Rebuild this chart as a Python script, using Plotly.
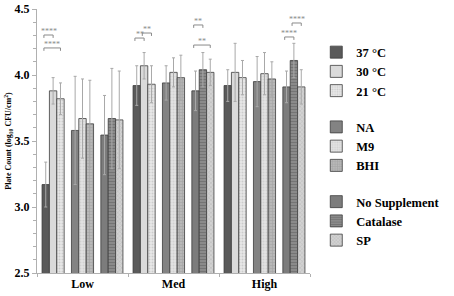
import plotly.graph_objects as go

categories = ["Low", "Med", "High"]

series_names = ["37 °C", "30 °C", "21 °C", "NA", "M9", "BHI", "No Supplement", "Catalase", "SP"]
series_group = [0, 0, 0, 1, 1, 1, 2, 2, 2]

# mean values per series over Low, Med, High
v_37 = [3.17, 3.92, 3.92]
v_30 = [3.88, 4.07, 4.02]
v_21 = [3.82, 3.93, 3.98]
v_na = [3.58, 3.94, 3.95]
v_m9 = [3.67, 4.02, 4.01]
v_bhi = [3.63, 3.98, 3.97]
v_nosup = [3.545, 3.88, 3.91]
v_cat = [3.67, 4.04, 4.11]
v_sp = [3.66, 4.02, 3.91]

# error (SD) per series
e_37 = [0.17, 0.15, 0.12]
e_30 = [0.10, 0.10, 0.22]
e_21 = [0.12, 0.14, 0.13]
e_na = [0.41, 0.13, 0.19]
e_m9 = [0.30, 0.11, 0.16]
e_bhi = [0.33, 0.17, 0.13]
e_nosup = [0.30, 0.15, 0.12]
e_cat = [0.38, 0.13, 0.13]
e_sp = [0.37, 0.10, 0.13]

values = [v_37, v_30, v_21, v_na, v_m9, v_bhi, v_nosup, v_cat, v_sp]
errors = [e_37, e_30, e_21, e_na, e_m9, e_bhi, e_nosup, e_cat, e_sp]

# significance: (category index, series i, series j, label, bracket level)
sig_cat = [0, 0, 1, 1, 1, 1, 2, 2]
sig_i = [0, 0, 0, 1, 6, 6, 6, 7]
sig_j = [1, 2, 1, 2, 7, 8, 7, 8]
sig_lbl = ["****", "****", "**", "**", "**", "**", "****", "****"]
sig_lvl = [4.303, 4.205, 4.28, 4.318, 4.379, 4.227, 4.288, 4.394]

y_ticks = [2.5, 3.0, 3.5, 4.0, 4.5]

fills = ["#5a5a5a", "#dadada", "#e8e8e8", "#838383", "#e2e2e2", "#b8b8b8", "#7c7c7c", "#8a8a8a", "#d2d2d2"]
patterns = ["", "", ".", "", ".", "+", "", "-", "x"]
pat_fg = ["", "", "#b0b0b0", "", "#bdbdbd", "#8e8e8e", "", "#5e5e5e", "#a8a8a8"]

BW = 0.081
SG = 0.323


def left_offset(k):
    g = series_group[k]
    kk = k - 3 * g
    return (g - 1) * SG + (kk - 1.5) * BW


FONT = "Liberation Serif"

fig = go.Figure()
for k, name in enumerate(series_names):
    pat = dict(shape=patterns[k], fgcolor=pat_fg[k], bgcolor=fills[k], size=3, solidity=0.35) if patterns[k] else None
    marker = dict(color=fills[k], line=dict(color="#3c3c3c", width=0.8))
    if pat:
        marker["pattern"] = pat
    fig.add_trace(go.Bar(
        x=categories, y=values[k], name=name,
        width=BW, offset=left_offset(k),
        base=0,
        marker=marker,
        error_y=dict(type="data", array=errors[k], color="#a8a8a8", thickness=1, width=1.5),
        legendgroup="g%d" % series_group[k],
    ))

shapes = []
annotations = []
tick_d = 0.022
for c, i, j, lbl, lvl in zip(sig_cat, sig_i, sig_j, sig_lbl, sig_lvl):
    x1 = c + left_offset(i) + BW / 2 - 0.02
    x2 = c + left_offset(j) + BW / 2
    shapes.append(dict(type="path", xref="x", yref="y",
                       path="M %f,%f L %f,%f L %f,%f L %f,%f" % (x1, lvl - tick_d, x1, lvl, x2, lvl, x2, lvl - tick_d),
                       line=dict(color="#8a8a8a", width=1)))
    annotations.append(dict(x=(x1 + x2) / 2, y=lvl, xref="x", yref="y", text=lbl, showarrow=False,
                            yanchor="bottom", yshift=-3, font=dict(family=FONT, size=8, color="#8a8a8a")))

fig.update_layout(
    width=454, height=296,
    margin=dict(l=37, r=120, t=9, b=23),
    paper_bgcolor="white", plot_bgcolor="white",
    barmode="overlay",
    showlegend=True,
    legend=dict(x=1.023, y=0.892, xanchor="left", yanchor="top",
                traceorder="grouped", tracegroupgap=17,
                font=dict(family=FONT, size=12.5, color="black", weight="bold"),
                bgcolor="rgba(0,0,0,0)"),
    shapes=shapes,
    annotations=annotations,
    font=dict(family=FONT, color="black"),
)
fig.update_xaxes(
    type="category", range=[-0.5, 2.5], automargin=False,
    showline=True, linecolor="#b0b0b0", linewidth=1,
    ticks="outside", tickson="boundaries", ticklen=3, tickcolor="#b0b0b0",
    tickfont=dict(family=FONT, size=12, color="black", weight="bold"),
    showgrid=False, zeroline=False,
)
fig.update_yaxes(
    range=[2.5, 4.5], tickvals=y_ticks, ticktext=["%.1f" % t for t in y_ticks], automargin=False,
    showline=True, linecolor="#b0b0b0", linewidth=1,
    ticks="outside", ticklen=4, tickcolor="#b0b0b0",
    minor=dict(dtick=0.1, ticks="outside", ticklen=3, tickcolor="#b0b0b0", showgrid=False),
    tickfont=dict(family=FONT, size=12, color="black", weight="bold"),
    showgrid=False, zeroline=False,
    title=dict(text="Plate Count (log<sub>10</sub> CFU/cm<sup>2</sup>)",
               font=dict(family=FONT, size=8, color="black", weight="bold"), standoff=1),
)

# remove the browser's default 8px page margin so the figure sits at the window corner
fig.write_html("out.html", config={"displayModeBar": False},
               post_script="document.body.style.margin='0px';")
